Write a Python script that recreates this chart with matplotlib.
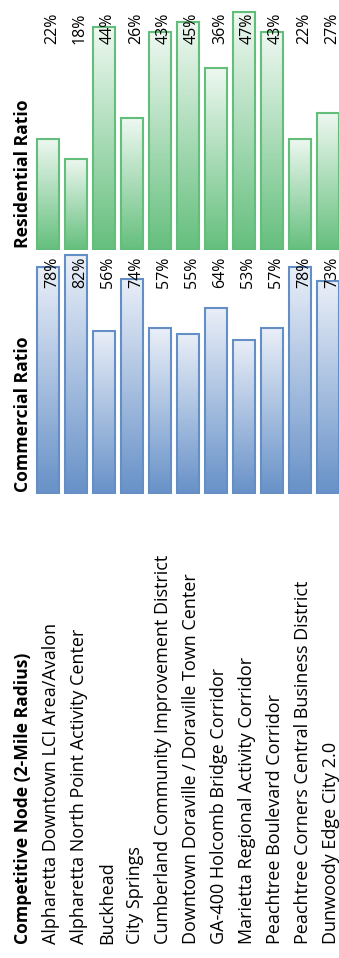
"""Rotated Excel-style table: competitive nodes with residential / commercial ratio data bars."""
import numpy as np
import matplotlib
matplotlib.use("Agg")
import matplotlib.pyplot as plt
from matplotlib.colors import LinearSegmentedColormap

plt.rcParams["font.family"] = ["Open Sans", "DejaVu Sans"]

nodes = [
    "Alpharetta Downtown LCI Area/Avalon",
    "Alpharetta North Point Activity Center",
    "Buckhead",
    "City Springs",
    "Cumberland Community Improvement District",
    "Downtown Doraville / Doraville Town Center",
    "GA-400 Holcomb Bridge Corridor",
    "Marietta Regional Activity Corridor",
    "Peachtree Boulevard Corridor",
    "Peachtree Corners Central Business District",
    "Dunwoody Edge City 2.0",
]
residential = [22, 18, 44, 26, 43, 45, 36, 47, 43, 22, 27]
commercial = [78, 82, 56, 74, 57, 55, 64, 53, 57, 78, 73]

header = "Competitive Node (2-Mile Radius)"
res_label = "Residential Ratio"
com_label = "Commercial Ratio"

W, H = 339, 958
FS_PCT = 11.5     # percentage labels
FS_NAME = 13.0    # node names
FS_HEAD = 12.6    # bold headers
XLIM = (-48 / 28, (W - 48) / 28)
BAR_W = 0.79
TXT_DX = 0.28

GREEN = "#63be7b"
BLUE = "#638ec6"


def px_axes(fig, top, bottom):
    return fig.add_axes([0, 1 - bottom / H, 1, (bottom - top) / H])


def gradient_bars(ax, values, edge, light, dark, ymax):
    cmap = LinearSegmentedColormap.from_list("g", [dark, light])
    grad = np.linspace(0, 1, 256).reshape(-1, 1)
    x = np.arange(len(values))
    for xi, v in zip(x, values):
        ax.imshow(grad, extent=(xi - BAR_W / 2, xi + BAR_W / 2, 0, v), origin="lower",
                  cmap=cmap, aspect="auto", zorder=1, interpolation="bilinear")
    ax.bar(x, values, width=BAR_W, fill=False, edgecolor=edge, linewidth=1.5, zorder=2)
    ax.set_xlim(*XLIM)
    ax.set_ylim(0, ymax)
    ax.axis("off")


def vtext(ax, x, y, s, ha, size, **kw):
    ax.text(x, y, s, transform=ax.get_xaxis_transform(), rotation=90,
            rotation_mode="anchor", ha=ha, va="baseline", fontsize=size,
            color="black", zorder=3, **kw)


fig = plt.figure(figsize=(W / 100, H / 100), dpi=100)

# residential section (pixel rows 0-250)
ax_r = px_axes(fig, 0, 250)
gradient_bars(ax_r, residential, GREEN, "#eef8f1", "#65bf7d", 49.4)
for i, v in enumerate(residential):
    vtext(ax_r, i + TXT_DX, 1 - 13 / 250, f"{v}%", "right", FS_PCT)
vtext(ax_r, -0.7, 2 / 250, res_label, "left", FS_HEAD, fontweight="bold")

# commercial section (pixel rows 250-494)
ax_c = px_axes(fig, 250, 494)
gradient_bars(ax_c, commercial, BLUE, "#eaeff8", "#6791c8", 83.8)
for i, v in enumerate(commercial):
    vtext(ax_c, i + TXT_DX, 1 - 7 / 244, f"{v}%", "right", FS_PCT)
vtext(ax_c, -0.7, 2 / 244, com_label, "left", FS_HEAD, fontweight="bold")

# names section (pixel rows 494-958)
ax_n = px_axes(fig, 494, H)
ax_n.set_xlim(*XLIM)
ax_n.axis("off")
for i, name in enumerate(nodes):
    vtext(ax_n, i + TXT_DX, 14 / 464, name, "left", FS_NAME)
vtext(ax_n, -0.7, 14 / 464, header, "left", FS_HEAD, fontweight="bold")

fig.savefig("out.png", dpi=100)
